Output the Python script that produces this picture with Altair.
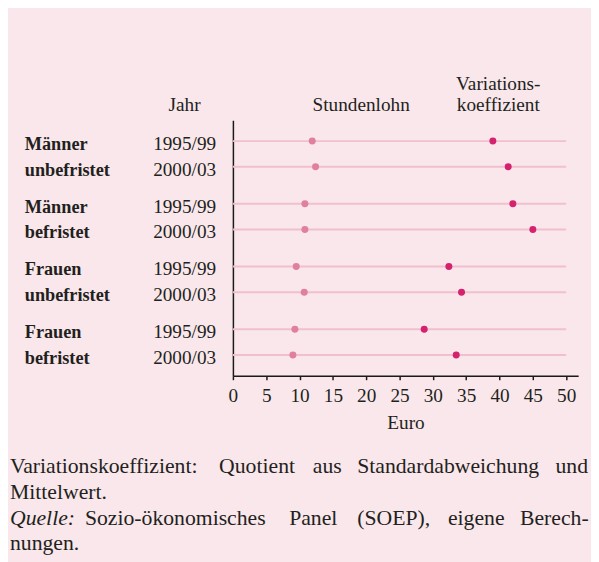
import altair as alt
import pandas as pd

# ---- data ----
gruppen = ["Männer unbefristet", "Männer befristet", "Frauen unbefristet", "Frauen befristet"]
gruppe_zeile1 = ["Männer", "Männer", "Frauen", "Frauen"]
gruppe_zeile2 = ["unbefristet", "befristet", "unbefristet", "befristet"]
jahre = ["1995/99", "2000/03"]
stundenlohn = [11.9, 12.4, 10.8, 10.8, 9.5, 10.7, 9.3, 9.0]
variationskoeffizient = [39.0, 41.3, 42.0, 45.0, 32.4, 34.3, 28.7, 33.5]
x_ticks = [0, 5, 10, 15, 20, 25, 30, 35, 40, 45, 50]
linie_von = 0
linie_bis = 50

kopf_jahr = "Jahr"
kopf_lohn = "Stundenlohn"
kopf_vk = ["Variations-", "koeffizient"]
achsentitel = "Euro"

fussnote = [
    [("Variationskoeffizient:", "normal"), ("Quotient", "normal"), ("aus", "normal"),
     ("Standardabweichung", "normal"), ("und", "normal")],
    [("Mittelwert.", "normal")],
    [("Quelle:", "italic"), ("Sozio-ökonomisches", "normal"), ("Panel", "normal"),
     ("(SOEP),", "normal"), ("eigene", "normal"), ("Berech-", "normal")],
    [("nungen.", "normal")],
]

# ---- layout (pixels, relative to plot origin) ----
fuss_x = [[-226, -14, 81, 126, 327], [-226], [-226, -150, 57, 126, 218, 291], [-226]]
fuss_y = [357.5, 384, 410, 436]

rows = []
for gi, g in enumerate(gruppen):
    for ji, j in enumerate(jahre):
        k = gi * 2 + ji
        rows.append({
            "Gruppe": g,
            "Jahr": j,
            "Label": gruppe_zeile1[gi] if ji == 0 else gruppe_zeile2[gi],
            "Stundenlohn": stundenlohn[k],
            "Variationskoeffizient": variationskoeffizient[k],
            "von": linie_von,
            "bis": linie_bis,
        })
df = pd.DataFrame(rows)

FONT = "Liberation Serif"
TXT = "#231f20"
FS = 19.5
FS_FN = 22

x_scale = alt.Scale(domain=[0, 51.8], nice=False, zero=False)
x_axis = alt.Axis(values=x_ticks, title=achsentitel, grid=False,
                  domainColor="#1a1a1a", domainWidth=1.5,
                  tickColor="#1a1a1a", tickWidth=1.5, tickSize=4,
                  labelFont=FONT, labelFontSize=FS, labelColor=TXT,
                  labelBaseline="alphabetic", labelPadding=22,
                  labelFlush=False, labelOverlap=False,
                  titleFont=FONT, titleFontSize=FS, titleFontWeight="normal",
                  titleColor=TXT, titleBaseline="alphabetic", titleY=53)
y_enc = alt.Y(
    "Gruppe:N", sort=gruppen,
    scale=alt.Scale(paddingInner=0.182, paddingOuter=0.128),
    axis=alt.Axis(labels=False, ticks=False, title=None, domain=True,
                  domainColor="#1a1a1a", domainWidth=1.5, grid=False),
)
yoff = alt.YOffset("Jahr:N", sort=jahre, scale=alt.Scale(paddingInner=0, paddingOuter=0))

base = alt.Chart(df)

rules = base.mark_rule(color="#f1bfcd", strokeWidth=2).encode(
    x=alt.X("von:Q", scale=x_scale, axis=x_axis),
    x2="bis:Q",
    y=y_enc,
    yOffset=yoff,
)

sl = base.mark_circle(size=50, color="#e07fa0", opacity=1).encode(
    x=alt.X("Stundenlohn:Q", scale=x_scale, axis=x_axis), y=y_enc, yOffset=yoff)
vk = base.mark_circle(size=50, color="#d4226f", opacity=1).encode(
    x=alt.X("Variationskoeffizient:Q", scale=x_scale, axis=x_axis), y=y_enc, yOffset=yoff)

jahr_txt = base.mark_text(align="right", baseline="alphabetic", dy=9,
                          font=FONT, fontSize=FS, color=TXT).encode(
    x=alt.value(-17), y=y_enc, yOffset=yoff, text="Jahr:N")

gruppe_txt = base.mark_text(align="left", baseline="alphabetic", dy=9,
                            font=FONT, fontSize=18.5, fontWeight="bold", color=TXT).encode(
    x=alt.value(-211), y=y_enc, yOffset=yoff, text="Label:N")


def label(text, x, y, align="center", size=FS, style="normal"):
    return alt.Chart(pd.DataFrame({"t": [text]})).mark_text(
        align=align, baseline="alphabetic", font=FONT, fontSize=size,
        fontStyle=style, color=TXT,
    ).encode(x=alt.value(x), y=alt.value(y), text="t:N")


layers = [rules, sl, vk, jahr_txt, gruppe_txt,
          label(kopf_jahr, -49, -9),
          label(kopf_lohn, 130, -9),
          label(kopf_vk[0], 269, -31),
          label(kopf_vk[1], 269, -9)]

for li, line in enumerate(fussnote):
    for wi, (word, style) in enumerate(line):
        layers.append(label(word, fuss_x[li][wi], fuss_y[li], align="left",
                            size=FS_FN, style=style))

chart = alt.layer(*layers).properties(
    width=350,
    height=259,
    background="#f9e7eb",
    padding={"left": 228, "top": 110, "right": 13, "bottom": 185},
    autosize=alt.AutoSizeParams(type="none"),
).configure_view(strokeWidth=0)

chart.save("out.html", embed_options={"renderer": "svg", "actions": False})
